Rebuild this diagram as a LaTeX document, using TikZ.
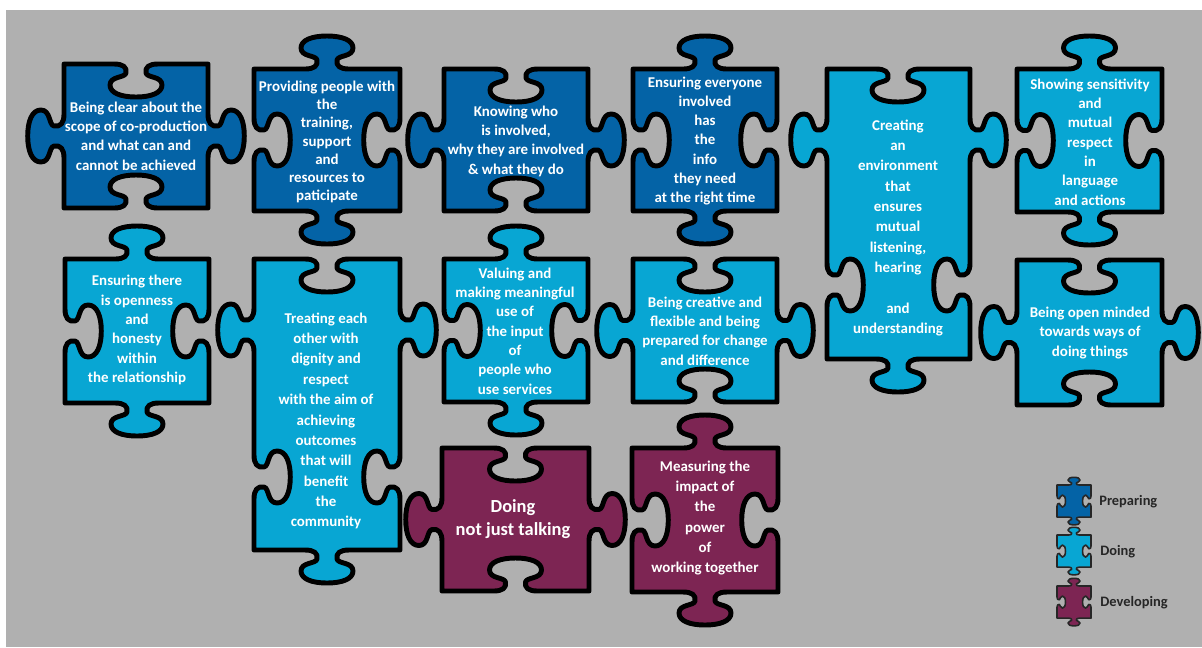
\documentclass[tikz,border=0pt]{standalone}
\usepackage{fontspec}
\setmainfont{Carlito}
\usepackage{xcolor}
\usepackage{tikz}
\usetikzlibrary{positioning, calc}

\definecolor{prepblue}{RGB}{4,99,166}
\definecolor{doblue}{RGB}{8,166,211}
\definecolor{devplum}{RGB}{125,37,83}
\definecolor{bggray}{RGB}{176,176,176}

% একটি খাঁজ/ট্যাব (knob) -- অনুভূমিক প্রান্তে
% #1 = কেন্দ্র x, #2 = প্রান্তের y, #3 = চলার দিক, #4 = বাইরে(+)/ভিতরে(-)
\newcommand\hknob[4]{ -- ({#1-(#3)*22},{#2})
  .. controls ({#1-(#3)*13},{#2}) and ({#1-(#3)*9},{#2+(#4)*3}) .. ({#1-(#3)*10},{#2+(#4)*9})
  .. controls ({#1-(#3)*11},{#2+(#4)*14}) and ({#1-(#3)*26},{#2+(#4)*12}) .. ({#1-(#3)*26},{#2+(#4)*21})
  .. controls ({#1-(#3)*26},{#2+(#4)*29}) and ({#1-(#3)*15},{#2+(#4)*33}) .. ({#1},{#2+(#4)*33})
  .. controls ({#1+(#3)*15},{#2+(#4)*33}) and ({#1+(#3)*26},{#2+(#4)*29}) .. ({#1+(#3)*26},{#2+(#4)*21})
  .. controls ({#1+(#3)*26},{#2+(#4)*12}) and ({#1+(#3)*11},{#2+(#4)*14}) .. ({#1+(#3)*10},{#2+(#4)*9})
  .. controls ({#1+(#3)*9},{#2+(#4)*3}) and ({#1+(#3)*13},{#2}) .. ({#1+(#3)*22},{#2})}
% একই জিনিস -- উল্লম্ব প্রান্তে (একটু লম্বা)
\newcommand\vknob[4]{ -- ({#1},{#2-(#3)*22})
  .. controls ({#1},{#2-(#3)*13}) and ({#1+(#4)*3.3},{#2-(#3)*9}) .. ({#1+(#4)*9.9},{#2-(#3)*10})
  .. controls ({#1+(#4)*15.4},{#2-(#3)*11}) and ({#1+(#4)*13.2},{#2-(#3)*26}) .. ({#1+(#4)*23.1},{#2-(#3)*26})
  .. controls ({#1+(#4)*31.9},{#2-(#3)*26}) and ({#1+(#4)*36.3},{#2-(#3)*15}) .. ({#1+(#4)*36.3},{#2})
  .. controls ({#1+(#4)*36.3},{#2+(#3)*15}) and ({#1+(#4)*31.9},{#2+(#3)*26}) .. ({#1+(#4)*23.1},{#2+(#3)*26})
  .. controls ({#1+(#4)*13.2},{#2+(#3)*26}) and ({#1+(#4)*15.4},{#2+(#3)*11}) .. ({#1+(#4)*9.9},{#2+(#3)*10})
  .. controls ({#1+(#4)*3.3},{#2+(#3)*9}) and ({#1},{#2+(#3)*13}) .. ({#1},{#2+(#3)*22})}

% উপরে-নিচে ট্যাব, দুই পাশে খাঁজ (tab piece)
\newcommand\tabpiece[4]{(#1,#2) \hknob{(#1+#3)/2}{#2}{1}{-1} -- (#3,#2)
  \vknob{#3}{(#2+#4)/2}{1}{-1} -- (#3,#4) \hknob{(#1+#3)/2}{#4}{-1}{1} -- (#1,#4)
  \vknob{#1}{(#2+#4)/2}{-1}{1} -- cycle}
% উপরে-নিচে খাঁজ, দুই পাশে ট্যাব (slot piece)
\newcommand\slotpiece[4]{(#1,#2) \hknob{(#1+#3)/2}{#2}{1}{1} -- (#3,#2)
  \vknob{#3}{(#2+#4)/2}{1}{1} -- (#3,#4) \hknob{(#1+#3)/2}{#4}{-1}{-1} -- (#1,#4)
  \vknob{#1}{(#2+#4)/2}{-1}{-1} -- cycle}

\begin{document}
\begin{tikzpicture}[x=0.02cm, y=-0.02cm,
    piece/.style={draw=black, line width=2.8pt, line join=round, fill=#1},
    keypiece/.style={draw=black!85, line width=0.9pt, line join=round, fill=#1},
    txt/.style={text=white, align=center, inner sep=0pt,
      font=\bfseries\fontsize{8.5}{11}\selectfont},
    keytxt/.style={text=black!85, inner sep=0pt,
      font=\bfseries\fontsize{8.2}{9}\selectfont}]

  % পটভূমি (Background)
  \useasboundingbox (0,0) rectangle (1202,647);
  \fill[white] (0,0) rectangle (1202,647);
  \fill[bggray] (6,10) rectangle (1202,647);

  % --- প্রথম সারি (Preparing) ---
  \draw[piece=prepblue] \slotpiece{64}{64}{208}{208};
  \draw[piece=prepblue] \tabpiece{254}{69}{400}{211};
  \draw[piece=prepblue] \slotpiece{444}{69}{588}{211};
  \draw[piece=prepblue] \tabpiece{633}{69}{777}{211};
  \draw[piece=doblue] \tabpiece{1017}{69}{1162}{212};

  % লম্বা টুকরো (Creating an environment)
  \draw[piece=doblue] (827,69) \hknob{898}{69}{1}{1} -- (970,69)
    \vknob{970}{140}{1}{1} \vknob{970}{285}{1}{-1} -- (970,359)
    \hknob{898}{359}{-1}{1} -- (827,359)
    \vknob{827}{285}{-1}{1} \vknob{827}{140}{-1}{-1} -- cycle;

  % --- দ্বিতীয় সারি (Doing) ---
  \draw[piece=doblue] \tabpiece{65}{259}{209}{403};
  \draw[piece=doblue] (254,259) \hknob{327}{259}{1}{1} -- (400,259)
    \vknob{400}{330}{1}{1} \vknob{400}{477}{1}{-1} -- (400,550)
    \hknob{327}{550}{-1}{1} -- (254,550)
    \vknob{254}{477}{-1}{1} \vknob{254}{330}{-1}{-1} -- cycle;
  \draw[piece=doblue] \tabpiece{444}{259}{588}{402};
  \draw[piece=doblue] \slotpiece{633}{259}{777}{402};
  \draw[piece=doblue] \slotpiece{1017}{260}{1162}{405};

  % --- তৃতীয় সারি (Developing) ---
  \draw[piece=devplum] \slotpiece{442}{448}{589}{591};
  \draw[piece=devplum] \tabpiece{632}{448}{778}{592};

  % --- লেখাগুলো (Texts) ---
  \node[txt] (clear) at (136,136) {Being clear about the\\scope of co-production\\and what can and\\cannot be achieved};
  \node[txt, font=\bfseries\fontsize{8.5}{10.3}\selectfont] (training) at (327,142) {Providing people with\\the\\training,\\support\\and\\resources to\\paticipate};
  \node[txt] (knowing) at (516,141) {Knowing who\\is involved,\\why they are involved\\\& what they do};
  \node[txt] (info) at (705,141) {Ensuring everyone\\involved\\has\\the\\info\\they need\\at the right time};
  \node[txt, font=\bfseries\fontsize{8.5}{11.6}\selectfont] (environment) at (898,228) {Creating\\an\\environment\\that\\ensures\\mutual\\listening,\\hearing\\[11.6pt]and\\understanding};
  \node[txt] (sensitivity) at (1090,142) {Showing sensitivity\\and\\mutual\\respect\\in\\language\\and actions};

  \node[txt] (openness) at (137,330) {Ensuring there\\is openness\\and\\honesty\\within\\the relationship};
  \node[txt, font=\bfseries\fontsize{8.5}{11.6}\selectfont] (dignity) at (326,421) {Treating each\\other with\\dignity and\\respect\\with the aim of\\achieving\\outcomes\\that will\\benefit\\the\\community};
  \node[txt] (valuing) at (515,331) {Valuing and\\making meaningful\\use of\\the input\\of\\people who\\use services};
  \node[txt] (creative) at (705,331) {Being creative and\\flexible and being\\prepared for change\\and difference};
  \node[txt] (openminded) at (1090,333) {Being open minded\\towards ways of\\doing things};

  \node[txt, font=\bfseries\fontsize{10.5}{13}\selectfont] (talking) at (513,519) {Doing\\not just talking};
  \node[txt, font=\bfseries\fontsize{8.5}{11.6}\selectfont] (impact) at (705,518) {Measuring the\\impact of\\the\\power\\of\\working together};

  % --- লেজেন্ড (Legend) ---
  \begin{scope}[shift={(1057,485)}, scale=0.233]
    \draw[keypiece=prepblue] \tabpiece{0}{0}{146}{138};
  \end{scope}
  \begin{scope}[shift={(1057,535)}, scale=0.233]
    \draw[keypiece=doblue] \tabpiece{0}{0}{146}{138};
  \end{scope}
  \begin{scope}[shift={(1057,586)}, scale=0.233]
    \draw[keypiece=devplum] \tabpiece{0}{0}{146}{138};
  \end{scope}
  \coordinate (prepkey) at (1092,502);
  \coordinate (dokey) at (1092,552);
  \coordinate (devkey) at (1092,603);
  \node[keytxt, right=0.14cm of prepkey] (preparing) {Preparing};
  \node[keytxt, right=0.16cm of dokey] (doing) {Doing};
  \node[keytxt, right=0.16cm of devkey] (developing) {Developing};

\end{tikzpicture}
\end{document}
